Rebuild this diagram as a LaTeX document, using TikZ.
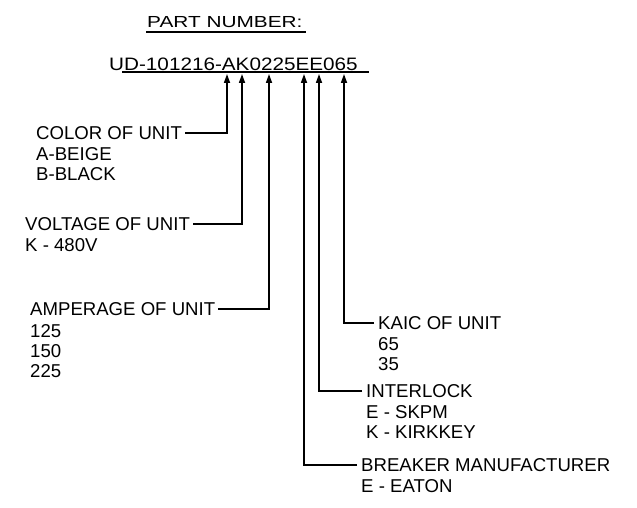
\documentclass[tikz,border=0pt]{standalone}
\usepackage{fontspec}
\setmainfont{Liberation Sans}
\newfontfamily\partfont[FakeStretch=1.15]{Liberation Sans}
\newfontfamily\headfont[FakeStretch=1.3]{Liberation Sans}
\usetikzlibrary{arrows.meta,positioning}

\begin{document}
\begin{tikzpicture}[x=1pt, y=-1pt,
    lbl/.style={anchor=west, inner sep=0pt, font=\fontsize{18.6}{20}\selectfont},
    opts/.style={lbl, align=left},
    lead/.style={line width=1.6pt, -{Triangle[length=9pt,width=6pt]}}]
  \useasboundingbox (0,0) rectangle (637,508);
  % title and part number
  \node (head) [anchor=west, inner sep=0pt, font=\headfont\fontsize{16}{18}\selectfont] at (147,22) {PART NUMBER:};
  \draw[line width=1.8pt] (146,32) -- (306,32);
  \node (pn) [anchor=west, inner sep=0pt, font=\partfont\fontsize{18}{20}\selectfont] at (109,64) {UD-101216-AK0225EE065};
  \draw[line width=1.5pt] (122,72) -- (369,72);
  % arrow tips under the digits
  \coordinate (tcolor) at (227,74);
  \coordinate (tvolt) at (242,74);
  \coordinate (tamp) at (269,74);
  \coordinate (tbrk) at (304,74);
  \coordinate (tlock) at (319,74);
  \coordinate (tkaic) at (344,74);
  % left side
  \node (color) [lbl] at (36,133) {COLOR OF UNIT};
  \node (colorlist) [opts, below=8pt of color.south west, anchor=north west] {A-BEIGE\\B-BLACK};
  \node (volt) [lbl] at (25,224) {VOLTAGE OF UNIT};
  \node (voltlist) [opts, below=8pt of volt.south west, anchor=north west] {K - 480V};
  \node (amp) [lbl] at (30,309) {AMPERAGE OF UNIT};
  \node (amplist) [opts, below=8.5pt of amp.south west, anchor=north west] {125\\150\\225};
  % right side
  \node (kaic) [lbl] at (378,323) {KAIC OF UNIT};
  \node (kaiclist) [opts, below=7.5pt of kaic.south west, anchor=north west] {65\\35};
  \node (lock) [lbl] at (366,391) {INTERLOCK};
  \node (locklist) [opts, below=7.5pt of lock.south west, anchor=north west] {E - SKPM\\K - KIRKKEY};
  \node (brk) [lbl] at (361,465) {BREAKER MANUFACTURER};
  \node (brklist) [opts, below=7.5pt of brk.south west, anchor=north west] {E - EATON};
  % leaders
  \draw[lead] ([xshift=3pt]color.east) -| (tcolor);
  \draw[lead] ([xshift=3pt]volt.east) -| (tvolt);
  \draw[lead] ([xshift=3pt]amp.east) -| (tamp);
  \draw[lead] ([xshift=-4pt]kaic.west) -| (tkaic);
  \draw[lead] ([xshift=-4pt]lock.west) -| (tlock);
  \draw[lead] ([xshift=-4pt]brk.west) -| (tbrk);
\end{tikzpicture}
\end{document}
